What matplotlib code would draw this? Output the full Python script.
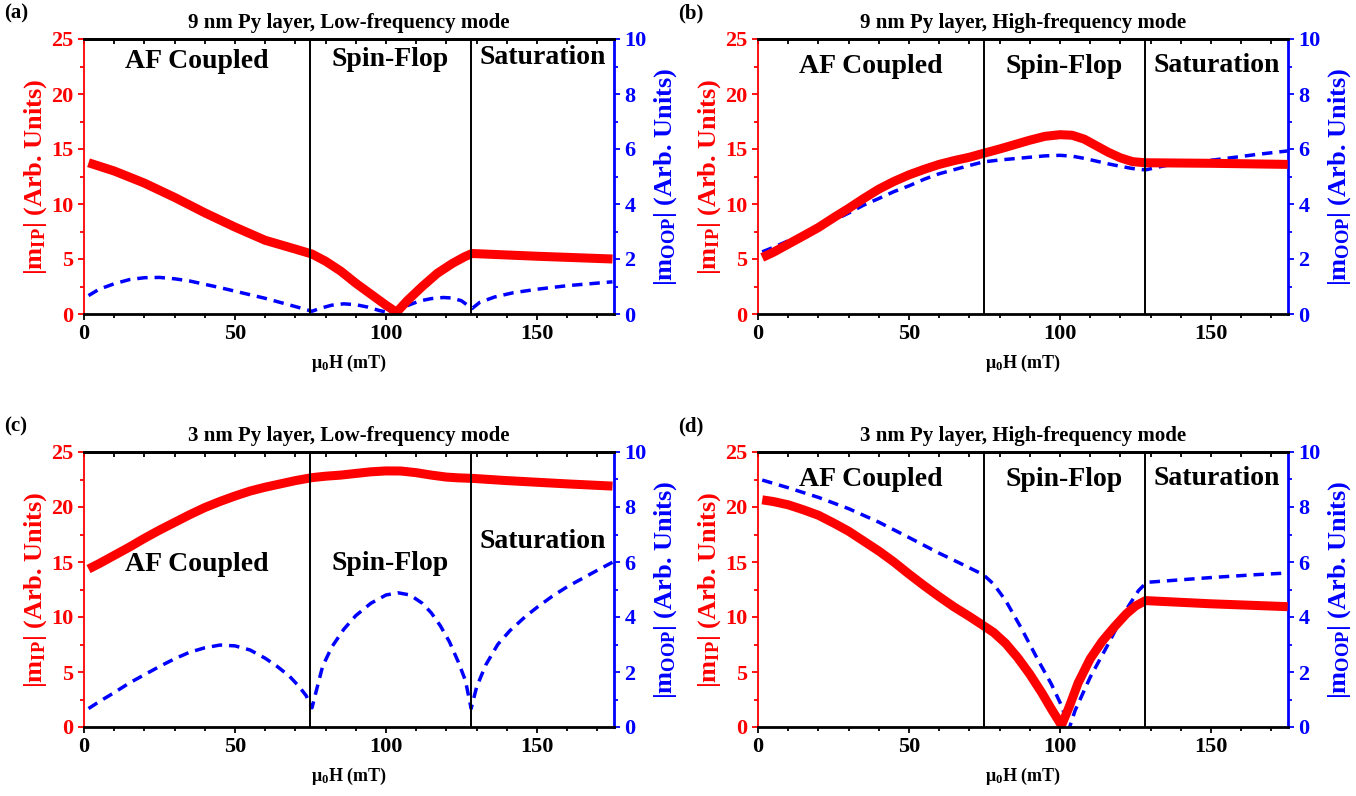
import matplotlib.pyplot as plt
from matplotlib.ticker import MultipleLocator

plt.rcParams['font.family'] = ['Liberation Serif', 'DejaVu Serif']
plt.rcParams['font.weight'] = 'bold'
plt.rcParams['mathtext.fontset'] = 'custom'
plt.rcParams['mathtext.rm'] = 'Liberation Serif:bold'
plt.rcParams['mathtext.bf'] = 'Liberation Serif:bold'
plt.rcParams['mathtext.it'] = 'Liberation Serif:bold:italic'

# (a) 9 nm Py, low-frequency mode
a_ip_x = [1.5, 10, 20, 30, 40, 50, 60, 70, 75.5, 80, 85, 90, 95, 100, 103.5, 107, 112, 117, 122, 126, 128.5,
          150, 175]
a_ip_y = [13.75, 13.0, 11.9, 10.6, 9.2, 7.9, 6.7, 5.9, 5.45, 4.8, 3.9, 2.8, 1.8, 0.8, 0.15, 1.2, 2.5, 3.7, 4.6,
          5.2, 5.5, 5.25, 5.0]
a_oop_x = [1.5, 5, 10, 15, 20, 25, 30, 35, 40, 45, 50, 55, 60, 65, 70, 75.5, 78, 82, 86, 90, 94, 98, 102, 104,
           107, 111, 115, 119, 122, 125, 128.5, 131, 136, 142, 150, 160, 175]
a_oop_y = [0.67, 0.9, 1.1, 1.25, 1.32, 1.33, 1.28, 1.2, 1.08, 0.96, 0.83, 0.7, 0.57, 0.42, 0.27, 0.1, 0.2,
           0.32, 0.37, 0.34, 0.25, 0.12, 0.03, 0.05, 0.3, 0.47, 0.56, 0.6, 0.58, 0.48, 0.2, 0.42, 0.62, 0.77,
           0.9, 1.03, 1.17]

# (b) 9 nm Py, high-frequency mode
b_ip_x = [1.4, 5, 10, 15, 20, 25, 30, 35, 40, 45, 50, 55, 60, 65, 70, 74.6, 80, 85, 90, 95, 100, 104, 108,
          112, 116, 120, 124, 128.3, 150, 175.4]
b_ip_y = [5.14, 5.6, 6.35, 7.1, 7.86, 8.75, 9.6, 10.5, 11.35, 12.05, 12.65, 13.15, 13.6, 13.95, 14.25, 14.6,
          15.0, 15.4, 15.8, 16.15, 16.3, 16.25, 15.9, 15.3, 14.7, 14.2, 13.85, 13.75, 13.7, 13.6]
b_oop_x = [1.4, 5, 10, 15, 20, 25, 30, 35, 40, 45, 50, 55, 60, 65, 70, 74.6, 80, 85, 90, 95, 100, 104, 108,
           112, 116, 120, 124, 128.3, 132, 136, 143, 150.7, 158, 165, 175.4]
b_oop_y = [2.26, 2.42, 2.66, 2.9, 3.14, 3.4, 3.67, 3.96, 4.2, 4.45, 4.66, 4.9, 5.1, 5.25, 5.4, 5.53, 5.6,
           5.65, 5.7, 5.75, 5.77, 5.74, 5.66, 5.56, 5.46, 5.37, 5.29, 5.24, 5.33, 5.42, 5.51, 5.6, 5.7, 5.8,
           5.93]

# (c) 3 nm Py, low-frequency mode
c_ip_x = [1.5, 5, 10, 15, 20, 25, 30, 35, 40, 45, 50, 55, 60, 65, 70, 75.5, 80, 85, 90, 95, 100, 105, 110,
          115, 120, 124, 128.8, 140, 150, 160, 175]
c_ip_y = [14.36, 14.85, 15.6, 16.35, 17.15, 17.9, 18.6, 19.3, 19.95, 20.5, 21.0, 21.45, 21.8, 22.1, 22.4,
          22.67, 22.8, 22.9, 23.05, 23.2, 23.28, 23.27, 23.12, 22.9, 22.72, 22.65, 22.6, 22.4, 22.25, 22.1, 21.9]
c_oop_x = [1.5, 5, 10, 15, 20, 25, 30, 35, 40, 45, 50, 55, 60, 64, 68, 71, 73.5, 75.5, 77, 79, 82, 86, 90,
           95, 100, 104, 108, 112, 115, 118, 121, 124, 126.3, 128.2, 130, 133, 137, 141, 146, 150, 155, 160,
           165, 170, 175]
c_oop_y = [0.67, 0.92, 1.25, 1.6, 1.9, 2.2, 2.48, 2.72, 2.88, 2.98, 2.95, 2.8, 2.5, 2.2, 1.85, 1.5, 1.15,
           0.7, 1.35, 2.2, 2.9, 3.55, 4.05, 4.5, 4.8, 4.88, 4.8, 4.5, 4.15, 3.68, 3.1, 2.35, 1.69, 0.67, 1.45,
           2.25, 3.0, 3.5, 4.0, 4.35, 4.75, 5.1, 5.4, 5.7, 5.99]

# (d) 3 nm Py, high-frequency mode
d_ip_x = [1.4, 5, 10, 15, 20, 25, 30, 35, 40, 45, 50, 55, 60, 65, 70, 74.6, 78, 82, 86, 90, 94, 97, 100.5,
          103, 106, 110, 114, 118, 122, 125, 128.3, 150, 175.4]
d_ip_y = [20.65, 20.5, 20.2, 19.75, 19.25, 18.55, 17.8, 16.9, 16.0, 15.0, 13.9, 12.85, 11.85, 10.9, 10.05,
          9.22, 8.6, 7.6, 6.3, 4.8, 3.1, 1.7, 0.15, 1.8, 4.0, 6.2, 7.8, 9.1, 10.3, 11.0, 11.49, 11.2, 10.94]
d_oop_x = [1.4, 10, 20, 30, 40, 50, 60, 67, 74.6, 78, 82, 87, 92.8, 97.1, 100.7, 102.9, 105, 110, 116, 121.7,
           126, 128.7, 136, 150.7, 165, 175.4]
d_oop_y = [8.98, 8.7, 8.35, 7.94, 7.45, 6.89, 6.32, 5.95, 5.54, 5.2, 4.6, 3.63, 2.42, 1.57, 0.73, -0.1, 0.6,
           1.81, 3.02, 4.23, 4.96, 5.26, 5.32, 5.44, 5.54, 5.6]

boundaries = [75, 128]
panel_labels = ['(a)', '(b)', '(c)', '(d)']
titles = ['9 nm Py layer, Low-frequency mode', '9 nm Py layer, High-frequency mode',
          '3 nm Py layer, Low-frequency mode', '3 nm Py layer, High-frequency mode']
region_names = ['AF Coupled', 'Spin-Flop', 'Saturation']
region_y = [[23, 23.1, 23.3], [22.5, 22.5, 22.6], [14.8, 14.9, 16.9], [22.5, 22.5, 22.6]]

panels = [(a_ip_x, a_ip_y, a_oop_x, a_oop_y), (b_ip_x, b_ip_y, b_oop_x, b_oop_y),
          (c_ip_x, c_ip_y, c_oop_x, c_oop_y), (d_ip_x, d_ip_y, d_oop_x, d_oop_y)]

W, H = 1356, 796
fig = plt.figure(figsize=(W / 100, H / 100), dpi=100)
positions = [(84, 39), (758, 39), (84, 452), (758, 452)]

for i, (ipx, ipy, oopx, oopy) in enumerate(panels):
    px, py = positions[i]
    ax = fig.add_axes([px / W, 1 - (py + 275) / H, 530 / W, 275 / H])
    ax2 = ax.twinx()
    ax.set_zorder(ax2.get_zorder() + 1)
    ax.patch.set_visible(False)

    ax2.plot(oopx, oopy, color='blue', lw=2.5, ls=(0, (3, 2)), dash_joinstyle='round')
    ax.plot(ipx, ipy, color='red', lw=6.5, solid_capstyle='butt', solid_joinstyle='round', zorder=1)
    for b in boundaries:
        ax.axvline(b, color='black', lw=1.4, zorder=3)

    ax.set_xlim(0, 175.5)
    ax.set_ylim(0, 25)
    ax2.set_ylim(0, 10)
    ax.xaxis.set_major_locator(MultipleLocator(50))
    ax.xaxis.set_minor_locator(MultipleLocator(10))
    ax.yaxis.set_major_locator(MultipleLocator(5))
    ax.yaxis.set_minor_locator(MultipleLocator(2.5))
    ax2.yaxis.set_major_locator(MultipleLocator(2))
    ax2.yaxis.set_minor_locator(MultipleLocator(1))

    ax.tick_params(axis='x', which='both', direction='out', labelsize=16, width=1.3, colors='black')
    ax.tick_params(axis='x', which='major', length=4)
    ax.tick_params(axis='x', which='minor', length=3)
    ax.tick_params(axis='y', which='both', colors='red', labelsize=16, width=1.3)
    ax.tick_params(axis='y', which='major', length=4)
    ax.tick_params(axis='y', which='minor', length=3)
    ax2.tick_params(axis='y', which='both', colors='blue', labelsize=16, width=1.3)
    ax2.tick_params(axis='y', which='major', length=4)
    ax2.tick_params(axis='y', which='minor', length=3)

    top = ax.secondary_xaxis('top')
    top.xaxis.set_major_locator(MultipleLocator(50))
    top.xaxis.set_minor_locator(MultipleLocator(10))
    top.tick_params(which='both', direction='in', labeltop=False, width=1.3, length=3.5)
    top.spines['top'].set_linewidth(2)

    for sp in ax.spines.values():
        sp.set_linewidth(2)
    ax.spines['left'].set_color('red')
    ax.spines['left'].set_linewidth(1.3)
    ax2.spines['right'].set_color('blue')
    ax2.spines['right'].set_linewidth(2)
    ax2.spines['left'].set_visible(False)
    ax.spines['right'].set_visible(False)

    ax.set_xlabel('μ$_\\mathbf{0}$H (mT)', fontsize=13, fontweight='bold', labelpad=6)
    ax.set_ylabel('|m$_\\mathbf{IP}$| (Arb. Units)', fontsize=19, fontweight='bold', color='red', labelpad=2)
    ax2.set_ylabel('|m$_\\mathbf{OOP}$| (Arb. Units)', fontsize=19, fontweight='bold', color='blue', labelpad=4)
    ax.set_title(titles[i], fontsize=15, fontweight='bold', pad=8)
    fig.text((px - 80) / W, 1 - (py - 26) / H, panel_labels[i], fontsize=15, fontweight='bold',
             ha='left', va='center')

    centers = [37.5, 101.5, 152]
    for name, cx, cy in zip(region_names, centers, region_y[i]):
        ax.text(cx, cy, name, ha='center', va='center', fontsize=20, fontweight='bold')

fig.savefig('out.png', dpi=100)
